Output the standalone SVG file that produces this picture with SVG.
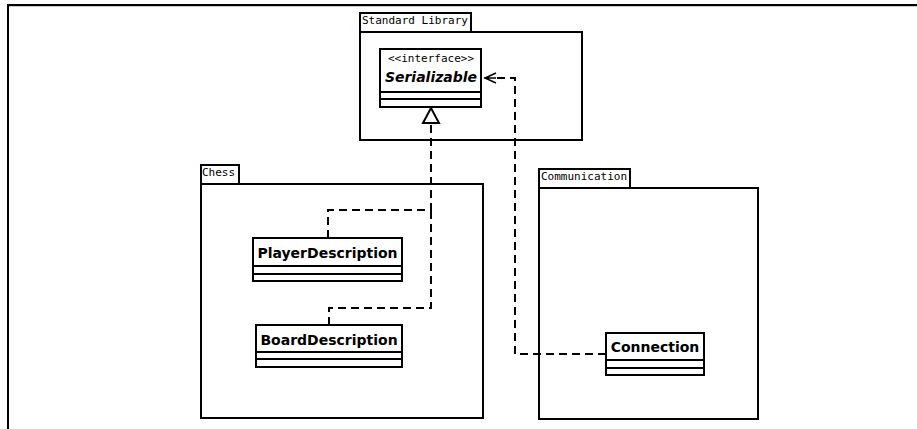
<svg xmlns="http://www.w3.org/2000/svg" width="917" height="429" viewBox="0 0 917 429">
<style>
.pkg{fill:#fff;stroke:#000;stroke-width:2}
.cls{fill:#fff;stroke:#000;stroke-width:2}
.plabel{font-family:"DejaVu Sans Mono",monospace;font-size:11px;fill:#000}
.cname{font-family:"DejaVu Sans",sans-serif;font-size:14px;font-weight:bold;fill:#000}
.ster{font-family:"DejaVu Sans Mono",monospace;font-size:11px;fill:#000}
.dash{fill:none;stroke:#000;stroke-width:2;stroke-dasharray:8,5}
.sep{stroke:#000;stroke-width:2}
</style>
<rect width="917" height="429" fill="#fff"/>
<g id="frame">
<path d="M8,429 L8,5 L917,5" fill="none" stroke="#000" stroke-width="2"/>
<line x1="9" y1="6.5" x2="917" y2="6.5" stroke="#ccc" stroke-width="1"/>
</g>
<g id="pkg-standard">
<rect class="pkg" x="360" y="13" width="111" height="19"/>
<rect class="pkg" x="360" y="32" width="222" height="108"/>
<text class="plabel" x="362" y="24">Standard Library</text>
</g>
<g id="pkg-chess">
<rect class="pkg" x="201" y="165" width="38" height="19"/>
<rect class="pkg" x="201" y="184" width="282" height="234"/>
<text class="plabel" x="202" y="176">Chess</text>
</g>
<g id="pkg-communication">
<rect class="pkg" x="539" y="169" width="91" height="19"/>
<rect class="pkg" x="539" y="188" width="219" height="231"/>
<text class="plabel" x="541" y="180">Communication</text>
</g>
<g id="cls-serializable">
<rect class="cls" x="380" y="49" width="101" height="58"/>
<line class="sep" x1="380" y1="92" x2="481" y2="92"/>
<line class="sep" x1="380" y1="99" x2="481" y2="99"/>
<text class="ster" x="431" y="62" text-anchor="middle">&lt;&lt;interface&gt;&gt;</text>
<text class="cname" x="431" y="82" text-anchor="middle" font-style="italic">Serializable</text>
</g>
<g id="cls-player">
<rect class="cls" x="253" y="238" width="149" height="43"/>
<line class="sep" x1="253" y1="266" x2="402" y2="266"/>
<line class="sep" x1="253" y1="274" x2="402" y2="274"/>
<text class="cname" x="327.5" y="258" text-anchor="middle">PlayerDescription</text>
</g>
<g id="cls-board">
<rect class="cls" x="256" y="325" width="146" height="42"/>
<line class="sep" x1="256" y1="352" x2="402" y2="352"/>
<line class="sep" x1="256" y1="359" x2="402" y2="359"/>
<text class="cname" x="329" y="345" text-anchor="middle">BoardDescription</text>
</g>
<g id="cls-connection">
<rect class="cls" x="606" y="333" width="98" height="42"/>
<line class="sep" x1="606" y1="360" x2="704" y2="360"/>
<line class="sep" x1="606" y1="368" x2="704" y2="368"/>
<text class="cname" x="655" y="352" text-anchor="middle">Connection</text>
</g>
<g id="connectors">
<path class="dash" d="M328,238 L328,210 L431,210 L431,123"/>
<path class="dash" d="M329,325 L329,308 L431,308 L431,210"/>
<path d="M431,108 L423,123 L439,123 Z" fill="#fff" stroke="#000" stroke-width="2"/>
<path class="dash" d="M606,354 L515,354 L515,78 L496,78"/>
<path d="M484,78 L496,78 M496,73 L485,78 L496,83" fill="none" stroke="#000" stroke-width="1.5"/>
</g>
</svg>
